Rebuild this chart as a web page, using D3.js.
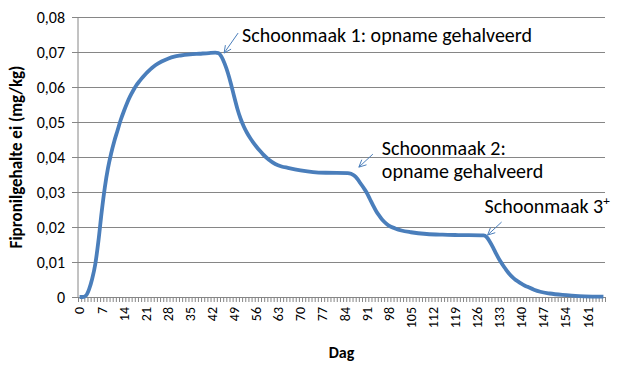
<!DOCTYPE html>
<html>
<head>
<meta charset="utf-8">
<script src="https://cdn.jsdelivr.net/npm/d3@7"></script>
<style>
  body { margin: 0; background: #fff; }
  svg { display: block; font-family: Calibri, Carlito, Lato, sans-serif; }
</style>
</head>
<body>
<svg width="619" height="369"></svg>
<script>
// categorieën: dag 0 t/m 166
const days = d3.range(0, 167);
const labelDays = d3.range(0, 167, 7);
const yTicks = [0, 0.01, 0.02, 0.03, 0.04, 0.05, 0.06, 0.07, 0.08];

const pointDays = [0, 1, 2, 3, 4, 5, 6, 7, 8, 9, 10, 11, 12, 13, 14, 15, 16, 17, 18, 19, 20, 21, 22, 23, 24, 26, 28, 30, 32, 35, 38, 41, 43, 44, 45, 46, 47, 48, 49, 50, 51, 52, 53, 54, 55, 56, 57, 58, 59, 60, 62, 64, 66, 70, 74, 78, 85, 86, 87, 88, 89, 90, 91, 92, 93, 94, 95, 96, 97, 98, 100, 102, 105, 110, 115, 120, 128, 129, 130, 131, 132, 133, 134, 135, 136, 137, 138, 139, 140, 141, 142, 144, 146, 149, 153, 156, 160, 166];
const pointValues = [0, 0, 0.0004, 0.0022, 0.0052, 0.0095, 0.0162, 0.0243, 0.0313, 0.0368, 0.041, 0.0445, 0.0475, 0.0505, 0.053, 0.0553, 0.0573, 0.059, 0.0605, 0.0617, 0.0628, 0.0638, 0.0647, 0.0655, 0.0662, 0.0673, 0.0681, 0.0687, 0.069, 0.0693, 0.0695, 0.0697, 0.0698, 0.0697, 0.0686, 0.0666, 0.064, 0.0608, 0.0572, 0.0538, 0.051, 0.0488, 0.047, 0.0455, 0.0442, 0.043, 0.0419, 0.0409, 0.04, 0.0392, 0.038, 0.0373, 0.0369, 0.0362, 0.0357, 0.0355, 0.0354, 0.0352, 0.0347, 0.0338, 0.0325, 0.0312, 0.0298, 0.028, 0.0262, 0.0245, 0.0232, 0.022, 0.0211, 0.0204, 0.0196, 0.019, 0.0185, 0.018, 0.0178, 0.0177, 0.0176, 0.0171, 0.0158, 0.0142, 0.0124, 0.0107, 0.0093, 0.008, 0.0068, 0.0058, 0.005, 0.0044, 0.0038, 0.0033, 0.0029, 0.0021, 0.0015, 0.001, 0.0006, 0.0004, 0.0002, 0.0001];

// annotaties: pijlpunt op (dag, waarde)
const noteLines = [["Schoonmaak 1: opname gehalveerd"], ["Schoonmaak 2:", "opname gehalveerd"], ["Schoonmaak 3"]];
const noteDays = [45.8, 88.5, 129.3];
const noteValues = [0.0697, 0.0371, 0.0177];

const svg = d3.select("svg");
const margin = { top: 17, right: 14, bottom: 72, left: 78 };
const width = +svg.attr("width");
const height = +svg.attr("height");
const innerWidth = width - margin.left - margin.right;
const innerHeight = height - margin.top - margin.bottom;
const grey = "#868686";
const blue = "#4a7ebb";

const g = svg.append("g").attr("transform", `translate(${margin.left},${margin.top})`);

const x = d3.scaleBand().domain(days).range([0, innerWidth]).padding(0);
const xEdge = d3.scaleLinear().domain([0, days.length]).range([0, innerWidth]);
const y = d3.scaleLinear().domain([0, 0.08]).range([innerHeight, 0]);
const cxf = d => xEdge(d + 0.5);

// rasterlijnen + y-as
const yAxis = g.append("g")
  .call(d3.axisLeft(y).tickValues(yTicks).tickSize(6)
    .tickFormat(d => d === 0 ? "0" : d3.format(".2f")(d).replace(".", ",")));
yAxis.select(".domain").remove();
yAxis.selectAll(".tick line").attr("x2", innerWidth).attr("x1", -6).attr("stroke", grey);
yAxis.selectAll(".tick text").attr("x", -13).attr("font-size", 16)
  .attr("font-family", "Calibri, Carlito, Lato, sans-serif").attr("fill", "#000");

g.append("line").attr("x1", 0).attr("x2", 0).attr("y1", 0).attr("y2", innerHeight).attr("stroke", grey);

// x-as: streepjes tussen categorieën
const xTicks = g.append("g").attr("transform", `translate(0,${innerHeight})`)
  .call(d3.axisBottom(xEdge).tickValues(d3.range(0, days.length + 1)).tickSize(5).tickFormat(""));
xTicks.select(".domain").attr("stroke", grey);
xTicks.selectAll(".tick line").attr("stroke", grey);

// x-as labels
const xLabels = g.append("g").attr("transform", `translate(0,${innerHeight})`)
  .call(d3.axisBottom(x).tickValues(labelDays).tickSize(0));
xLabels.select(".domain").remove();
xLabels.selectAll(".tick text")
  .attr("transform", "rotate(-90)")
  .attr("text-anchor", "end")
  .attr("x", -10).attr("y", 0).attr("dy", "0.35em")
  .attr("font-size", 14)
  .attr("font-family", "Calibri, Carlito, Lato, sans-serif").attr("fill", "#000");

// lijn
const line = d3.line()
  .x((d, i) => cxf(pointDays[i]))
  .y(d => y(d))
  .curve(d3.curveMonotoneX);

g.append("path")
  .datum(pointValues)
  .attr("d", line)
  .attr("fill", "none")
  .attr("stroke", blue)
  .attr("stroke-width", 3.8)
  .attr("stroke-linejoin", "round");

// annotaties
const textOffsets = [[18, -11.5], [23, -12.5], [-3, -22]];
noteLines.forEach((lines, i) => {
  const px = xEdge(noteDays[i] + 0.5);
  const py = y(noteValues[i]);
  const tail = [px + 14, py - (i === 0 ? 20 : 13)];
  const ang = Math.atan2(tail[1] - py, tail[0] - px);
  const head = 8, spread = 0.45;
  g.append("path")
    .attr("d", `M${tail[0]},${tail[1]}L${px},${py}` +
      `M${px + head * Math.cos(ang - spread)},${py + head * Math.sin(ang - spread)}L${px},${py}` +
      `L${px + head * Math.cos(ang + spread)},${py + head * Math.sin(ang + spread)}`)
    .attr("fill", "none").attr("stroke", blue).attr("stroke-width", 1);
  const t = g.append("text")
    .attr("x", px + textOffsets[i][0])
    .attr("y", py + textOffsets[i][1])
    .attr("font-size", 20)
    .attr("fill", "#000");
  lines.forEach((s, j) => {
    t.append("tspan").attr("x", px + textOffsets[i][0]).attr("dy", j === 0 ? 0 : 23).text(s);
  });
  if (i === 2) {
    t.select("tspan").append("tspan").attr("font-size", 13).attr("dy", -8).text("+");
  }
});

// astitels
svg.append("text")
  .attr("x", margin.left + innerWidth / 2)
  .attr("y", 358)
  .attr("text-anchor", "middle")
  .attr("font-size", 16)
  .attr("font-weight", "bold")
  .text("Dag");

svg.append("text")
  .attr("transform", `translate(22,${margin.top + innerHeight / 2}) rotate(-90)`)
  .attr("text-anchor", "middle")
  .attr("font-size", 17)
  .attr("font-weight", "bold")
  .text("Fipronilgehalte ei (mg/kg)");
</script>
</body>
</html>
